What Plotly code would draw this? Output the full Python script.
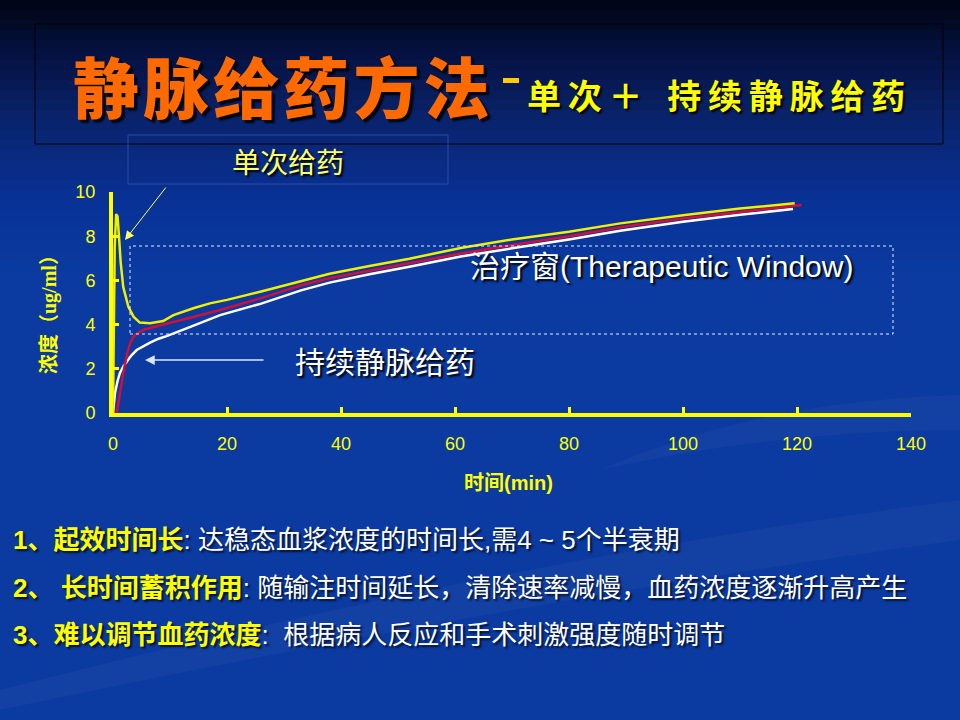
import plotly.graph_objects as go

# --- Data ---
# single bolus + continuous infusion (yellow)
t_single = [0, 0.3, 0.55, 0.8, 1.1, 1.35, 1.8, 2.7, 3.6, 4.7, 6.5, 8.8, 10.6, 14.1, 17, 20, 26, 33, 38,
            45, 52, 61, 70, 80, 89, 100, 110, 119.6]
c_single = [0, 7.5, 9.0, 8.9, 7.8, 6.8, 5.7, 4.8, 4.36, 4.09, 4.06, 4.16, 4.43, 4.74, 4.96, 5.12, 5.5, 5.97, 6.3,
            6.65, 6.98, 7.47, 7.85, 8.2, 8.58, 8.95, 9.25, 9.49]

# continuous infusion (red)
t_red = [0.65, 1.2, 1.9, 2.5, 3.0, 3.6, 4.2, 5.5, 7, 9.4, 12.9, 18.8, 26, 33, 38,
         45, 52, 61, 70, 80, 89, 100, 110, 120.8]
c_red = [0, 0.9, 1.95, 2.7, 3.15, 3.45, 3.6, 3.78, 3.88, 4.03, 4.24, 4.66, 5.2, 5.78, 6.1,
         6.45, 6.8, 7.22, 7.6, 8.0, 8.4, 8.8, 9.1, 9.41]

# continuous infusion (white)
t_white = [0, 0.35, 0.8, 1.2, 1.8, 2.4, 3.2, 4.15, 5.3, 6.5, 8, 9.4, 12.9, 18.8, 26, 33, 38,
           45, 52, 61, 70, 80, 89, 100, 110, 119.3]
c_white = [0, 0.9, 1.45, 1.8, 2.1, 2.32, 2.6, 2.85, 3.03, 3.18, 3.36, 3.48, 3.83, 4.43, 4.95, 5.55, 5.9,
           6.28, 6.62, 7.08, 7.45, 7.85, 8.25, 8.65, 8.97, 9.23]

x_ticks = [0, 20, 40, 60, 80, 100, 120, 140]
y_ticks = [0, 2, 4, 6, 8, 10]

title_main = "静脉给药方法"
title_sub = ["单次＋", "持续静脉给药"]
notes = [
    ("1、起效时间长", ": 达稳态血浆浓度的时间长,需4 ~ 5个半衰期"),
    ("2、 长时间蓄积作用", ": 随输注时间延长，清除速率减慢，血药浓度逐渐升高产生"),
    ("3、难以调节血药浓度", ":  根据病人反应和手术刺激强度随时调节"),
]

# plot area in screen pixels
L, T, W, H = 113, 192, 798, 221


def fx(p):
    return (p - L) / W


def fy(p):
    return (T + H - p) / H


def label(x, y, text, font, xanchor='center', **kw):
    return dict(x=fx(x), y=fy(y), xref='paper', yref='paper', showarrow=False,
                xanchor=xanchor, yanchor='middle', text=text, font=font, **kw)


CJK = "Noto Sans CJK SC"
YEL = "#ffff00"

fig = go.Figure()

fig.add_trace(go.Scatter(x=t_white, y=c_white, mode='lines',
                         line=dict(color='#ffffff', width=2.5), showlegend=False))
fig.add_trace(go.Scatter(x=t_red, y=c_red, mode='lines',
                         line=dict(color='#d0103a', width=2.5), showlegend=False))
fig.add_trace(go.Scatter(x=t_single, y=c_single, mode='lines',
                         line=dict(color='#f0f000', width=2.5), showlegend=False))

# --- background gradient (top of slide) ---
stops = [(0, (1, 4, 20)), (60, (6, 20, 70)), (130, (10, 38, 115)), (200, (8, 50, 150)), (270, (11, 58, 160))]
shapes = []
for i in range(27):
    y0, y1 = i * 10, i * 10 + 11
    ym = i * 10 + 5
    for (a, ca), (b, cb) in zip(stops[:-1], stops[1:]):
        if a <= ym <= b:
            f = (ym - a) / (b - a)
            col = tuple(int(ca[k] + (cb[k] - ca[k]) * f) for k in range(3))
            break
    shapes.append(dict(type='rect', xref='paper', yref='paper', layer='below',
                       x0=fx(0), x1=fx(960), y0=fy(y1), y1=fy(y0),
                       fillcolor='rgb(%d,%d,%d)' % col, line=dict(width=0)))

# faint swooshes
shapes.append(dict(type='path', xref='paper', yref='paper', layer='below',
                   path='M %f %f Q %f %f %f %f L %f %f Q %f %f %f %f Z' % (
                       fx(0), fy(690), fx(500), fy(560), fx(960), fy(500),
                       fx(960), fy(540), fx(520), fy(600), fx(0), fy(710)),
                   fillcolor='rgba(255,255,255,0.03)', line=dict(width=0)))
shapes.append(dict(type='path', xref='paper', yref='paper', layer='below',
                   path='M %f %f Q %f %f %f %f L %f %f Q %f %f %f %f Z' % (
                       fx(600), fy(470), fx(760), fy(400), fx(960), fy(395),
                       fx(960), fy(430), fx(780), fy(430), fx(600), fy(470)),
                   fillcolor='rgba(255,255,255,0.03)', line=dict(width=0)))

# title box
shapes.append(dict(type='rect', xref='paper', yref='paper',
                   x0=fx(35), x1=fx(943), y0=fy(144), y1=fy(24),
                   line=dict(color='#000000', width=1)))
# box around 单次给药
shapes.append(dict(type='rect', xref='paper', yref='paper',
                   x0=fx(128), x1=fx(448), y0=fy(184), y1=fy(135),
                   line=dict(color='#2a4aa8', width=1)))
# therapeutic window
shapes.append(dict(type='rect', xref='paper', yref='paper',
                   x0=fx(130), x1=fx(893), y0=fy(334), y1=fy(246),
                   line=dict(color='#e8ecff', width=1, dash='dot')))
# dash after main title
shapes.append(dict(type='rect', xref='paper', yref='paper',
                   x0=fx(503), x1=fx(519), y0=fy(83), y1=fy(78),
                   fillcolor='#ffcc00', line=dict(width=0)))

ann = []
ann.append(label(281, 84, "\u200a".join(title_main),
                 dict(family=CJK, size=66, color='#ff6a00', weight=900,
                      shadow='3px 3px 2px #000000')))
ann.append(label(525, 94, "\u2009".join(title_sub[0]) + "\u2002 " + "\u2009".join(title_sub[1]),
                 dict(family=CJK, size=34, color=YEL, weight='bold',
                      shadow='2px 2px 2px #000000'), xanchor='left'))

ann.append(label(288, 161, "单次给药",
                 dict(family=CJK, size=28, color='#ffff66', shadow='2px 2px 2px #000000')))
ann.append(dict(x=fx(125), y=fy(240), xref='paper', yref='paper', text='',
                showarrow=True, ax=42, ay=-54, arrowcolor='#ffff66', arrowwidth=1,
                arrowhead=2, arrowsize=1.8))

ann.append(label(293, 360, "持续静脉给药",
                 dict(family=CJK, size=30, color='#ffffff', shadow='2px 2px 2px #000000'),
                 xanchor='left'))
ann.append(dict(x=fx(145), y=fy(360), xref='paper', yref='paper', text='',
                showarrow=True, ax=120, ay=0, arrowcolor='#dde6ff', arrowwidth=1.5,
                arrowhead=2, arrowsize=1.3))

ann.append(label(468, 266, "治疗窗(Therapeutic Window)",
                 dict(family="Liberation Sans, " + CJK, size=30, color='#ffffff',
                      shadow='2px 2px 2px #000000'), xanchor='left'))

# axis titles
ann.append(label(49, 310, "<b>浓度（ug/ml）</b>",
                 dict(family="Liberation Serif, " + CJK, size=20, color=YEL), textangle=-90))
ann.append(label(508, 483, "<b>时间(min)</b>",
                 dict(family="Liberation Sans, " + CJK, size=20, color=YEL)))

# notes below the chart
for i, (head, body) in enumerate(notes):
    ann.append(label(11, 540 + i * 47.5,
                     "<b><span style='color:#ffff00'>%s</span></b>%s" % (head, body),
                     dict(family="Liberation Sans, " + CJK, size=26, color='#ffffff',
                          shadow='2px 2px 2px rgba(0,0,0,0.7)'), xanchor='left'))

axis_style = dict(showline=True, linecolor=YEL, linewidth=4, ticks='inside', ticklen=6,
                  tickwidth=3, tickcolor=YEL, showgrid=False, zeroline=False,
                  tickfont=dict(family="Liberation Sans", size=18, color=YEL))

fig.update_layout(
    width=960, height=720,
    margin=dict(l=L, r=960 - L - W, t=T, b=720 - T - H),
    paper_bgcolor='rgb(11,58,160)',
    plot_bgcolor='rgba(0,0,0,0)',
    shapes=shapes,
    annotations=ann,
    xaxis=dict(range=[0, 140], tickvals=x_ticks, ticklabelstandoff=11, **axis_style),
    yaxis=dict(range=[0, 10], tickvals=y_ticks, ticklabelstandoff=10, **axis_style),
)

fig.write_html("out.html", config={'displayModeBar': False},
               post_script="document.body.style.margin='0';")
